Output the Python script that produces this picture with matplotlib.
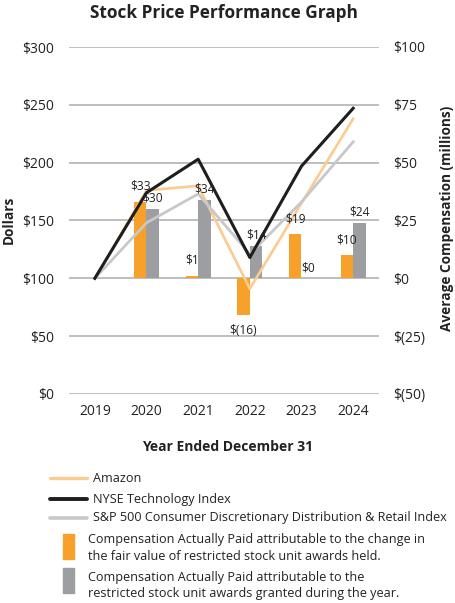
import matplotlib
matplotlib.use('Agg')
import matplotlib.pyplot as plt
import numpy as np
from matplotlib.lines import Line2D
from matplotlib.patches import Rectangle

plt.rcParams['font.family'] = ['Open Sans', 'DejaVu Sans']

# ---------------- data ----------------
years = ['2019', '2020', '2021', '2022', '2023', '2024']
amazon = [100, 176, 180, 91, 165, 238]
nyse_tech = [100, 174, 203, 118, 197, 247]
sp_cdr = [100, 148, 173, 121, 166, 218]

bar_years = ['2020', '2021', '2022', '2023', '2024']
cap_fair_value = [33, 1, -16, 19, 10]
cap_granted = [30, 34, 14, 0, 24]

left_ticks = [0, 50, 100, 150, 200, 250, 300]
right_ticks = [-50, -25, 0, 25, 50, 75, 100]

line_names = ['Amazon', 'NYSE Technology Index',
              'S&P 500 Consumer Discretionary Distribution & Retail Index']
bar_names = [['Compensation Actually Paid attributable to the change in',
              'the fair value of restricted stock unit awards held.'],
             ['Compensation Actually Paid attributable to the',
              'restricted stock unit awards granted during the year.']]

# ---------------- style ----------------
C_AMZ = '#FCCB8F'
C_NYSE = '#1E1E1E'
C_SP = '#C8C8C8'
C_ORANGE = '#F7A02A'
C_GRAY = '#9D9EA1'
C_GRID = '#BEBEBE'
C_TXT = '#222222'
W, H = 456, 603

fig = plt.figure(figsize=(W / 100, H / 100), dpi=100)
ax = fig.add_axes([69 / W, 1 - 394 / H, 310 / W, 347 / H])
ax2 = ax.twinx()

x = np.arange(len(years))
xb = np.array([years.index(y) for y in bar_years])
bw = 0.245

# bars on secondary axis (drawn below lines)
b1 = ax2.bar(xb - bw / 2, cap_fair_value, bw, color=C_ORANGE, zorder=2)
b2 = ax2.bar(xb + bw / 2, cap_granted, bw, color=C_GRAY, zorder=2)

def fmt(v):
    return f'${v:.0f}' if v >= 0 else f'$({-v:.0f})'

ax2.set_ylim(-50, 100)
ax2.set_yticks(right_ticks)
ax2.set_yticklabels([fmt(v) for v in right_ticks])
ax2.grid(axis='y', color=C_GRID, linewidth=1.4)
ax2.set_axisbelow(True)

# lines on primary axis, placed on top
ax.plot(x, amazon, color=C_AMZ, lw=1.9, zorder=3)
ax.plot(x, sp_cdr, color=C_SP, lw=2.0, zorder=3)
ax.plot(x, nyse_tech, color=C_NYSE, lw=2.2, zorder=4)
ax.set_zorder(ax2.get_zorder() + 1)
ax.patch.set_visible(False)

# bar value labels, drawn in the top axes so they sit above the lines
for bars, vals, pad in ((b1, cap_fair_value, 6.5), (b2, cap_granted, 3.0)):
    for r, v in zip(bars, vals):
        cx = r.get_x() + r.get_width() / 2
        ax.annotate(fmt(v), xy=(cx, v), xycoords=ax2.transData,
                    xytext=(0, pad if v >= 0 else -pad), textcoords='offset points',
                    ha='center', va='bottom' if v >= 0 else 'top',
                    fontsize=8.6, color=C_TXT, zorder=6)

ax.set_ylim(0, 300)
ax.set_yticks(left_ticks)
ax.set_yticklabels([f'${v}' for v in left_ticks])
ax.set_xlim(-0.5, len(years) - 0.5)
ax.set_xticks(x)
ax.set_xticklabels(years)

for a in (ax, ax2):
    for s in a.spines.values():
        s.set_visible(False)
    a.tick_params(length=0, labelsize=10, colors=C_TXT)
ax.tick_params(axis='y', pad=11)
ax2.tick_params(axis='y', pad=10)
ax.tick_params(axis='x', pad=7)

# titles / axis labels
fig.text(223.5 / W, 1 - 13 / H, 'Stock Price Performance Graph',
         ha='center', va='center', fontsize=12.4, fontweight='bold', color=C_TXT)
fig.text(228 / W, 1 - 447 / H, 'Year Ended December 31',
         ha='center', va='center', fontsize=10, fontweight='bold', color=C_TXT)
fig.text(9 / W, 1 - 220 / H, 'Dollars', rotation=90,
         ha='center', va='center', fontsize=9.8, fontweight='bold', color=C_TXT)
fig.text(447 / W, 1 - 218 / H, 'Average Compensation (millions)', rotation=90,
         ha='center', va='center', fontsize=9.8, fontweight='bold', color=C_TXT)

# legend (manual)
for name, col, lw, yy in zip(line_names, [C_AMZ, C_NYSE, C_SP], [2.4, 2.8, 2.6],
                             [478, 499, 518]):
    fig.add_artist(Line2D([50 / W, 87 / W], [1 - yy / H, 1 - yy / H],
                          color=col, lw=lw, transform=fig.transFigure,
                          solid_capstyle='round'))
    fig.text(93 / W, 1 - yy / H, name, ha='left', va='center',
             fontsize=9.1, color=C_TXT)

for lines, col, (y0, y1), ty in zip(bar_names, [C_ORANGE, C_GRAY],
                                    [(534, 559), (568, 593)], [(539, 557), (577, 594)]):
    fig.add_artist(Rectangle((62.5 / W, 1 - y1 / H), 11 / W, (y1 - y0) / H,
                             color=col, transform=fig.transFigure))
    for t, yy in zip(lines, ty):
        fig.text(88 / W, 1 - yy / H, t, ha='left', va='center',
                 fontsize=9.1, color=C_TXT)

fig.savefig('out.png', dpi=100)
